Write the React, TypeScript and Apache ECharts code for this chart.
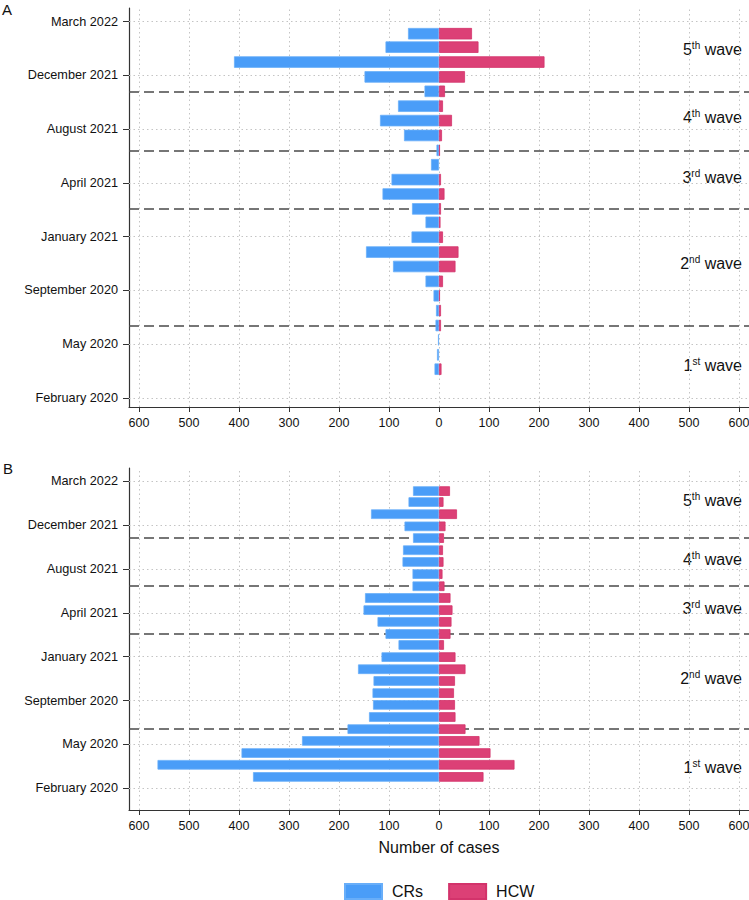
import React, { useEffect, useRef } from 'react';
import * as echarts from 'echarts';

// Monthly bars (first day of month), bottom (Mar 2020) to top (Mar 2022)
const MONTHS = [
  '2020-03', '2020-04', '2020-05', '2020-06', '2020-07', '2020-08', '2020-09', '2020-10', '2020-11', '2020-12',
  '2021-01', '2021-02', '2021-03', '2021-04', '2021-05', '2021-06', '2021-07', '2021-08', '2021-09', '2021-10',
  '2021-11', '2021-12', '2022-01', '2022-02', '2022-03',
];
// Panel A
const CRS_A = [0, 9, 4, 2, 7, 6, 11, 27, 92, 146, 55, 27, 54, 113, 95, 16, 5, 70, 118, 82, 29, 149, 410, 107, 62];
const HCW_A = [0, 5, 0, 0, 4, 4, 2, 8, 33, 39, 8, 3, 4, 11, 4, 0, 2, 6, 26, 8, 12, 52, 211, 79, 66];
// Panel B
const CRS_B = [372, 563, 395, 274, 183, 140, 132, 133, 131, 162, 115, 81, 107, 123, 151, 148, 53, 53, 73, 72, 52, 69, 136, 61, 52];
const HCW_B = [89, 151, 103, 81, 53, 33, 32, 30, 32, 53, 33, 10, 23, 25, 27, 23, 11, 7, 9, 8, 10, 13, 36, 9, 22];

const SERIES_NAMES = ['CRs', 'HCW'];
const TICK_DATES = ['2020-02-01', '2020-05-23', '2020-09-12', '2021-01-02', '2021-04-24', '2021-08-14', '2021-12-04', '2022-03-26'];
const WAVE_STARTS = ['2020-07-01', '2021-03-01', '2021-07-01', '2021-11-01'];
const X_TICKS = [-600, -500, -400, -300, -200, -100, 0, 100, 200, 300, 400, 500, 600];
const WAVE_NUMS = ['5', '4', '3', '2', '1'];
const WAVE_SUPS = ['th', 'th', 'rd', 'nd', 'st'];
const MONTH_NAMES = ['January', 'February', 'March', 'April', 'May', 'June', 'July', 'August', 'September', 'October', 'November', 'December'];

const DAY = 86400000;
const FONT = "'Liberation Sans', Arial, Helvetica, sans-serif";
const BLUE = '#4A9DF8';
const BLUE_BORDER = '#68AEF9';
const PINK = '#DC4076';
const PINK_BORDER = '#D3336B';

const ts = (s: string) => {
  const p = s.split('-').map(Number);
  return Date.UTC(p[0], p[1] - 1, p[2] || 1);
};
const BASE = ts('2020-02-01');

const fmtDate = (v: number) => {
  const d = new Date(Math.round(v));
  return MONTH_NAMES[d.getUTCMonth()] + ' ' + d.getUTCFullYear();
};

function panel(idx: number, crs: number[], hcw: number[], top: number, height: number, minDay: number, maxDay: number, barW: number, withName: boolean) {
  const grid = { left: 129, right: 0, top, height, outerBoundsMode: 'none' };
  const xAxis: any = {
    type: 'value',
    gridIndex: idx,
    min: -620,
    max: 620,
    axisLine: { show: true, lineStyle: { color: '#333', width: 1.2 } },
    axisTick: { show: true, length: 5, customValues: X_TICKS, lineStyle: { color: '#333', width: 1 } },
    axisLabel: {
      customValues: X_TICKS,
      formatter: (v: number) => String(Math.abs(v)),
      fontSize: 12.5,
      fontFamily: FONT,
      color: '#111',
      margin: 9,
    },
    splitLine: { show: false },
  };
  if (withName) {
    xAxis.name = 'Number of cases';
    xAxis.nameLocation = 'middle';
    xAxis.nameGap = 29;
    xAxis.nameTextStyle = { fontSize: 16, fontFamily: FONT, color: '#111' };
  }
  const tickVals = TICK_DATES.map(ts);
  const yMin = BASE + minDay * DAY;
  const yMax = BASE + maxDay * DAY;
  // ECharts widens a time base axis carrying bars by the bar width; pre-shrink so the result matches.
  const shrink = ((yMax - yMin) * (barW / 2)) / height;
  const yTime = {
    type: 'time',
    gridIndex: idx,
    min: yMin + shrink,
    max: yMax - shrink,
    show: false,
    position: 'left',
  };
  // visible value axis (same range) carrying the date ticks/labels
  const yLabels = {
    type: 'value',
    gridIndex: idx,
    min: yMin,
    max: yMax,
    position: 'left',
    offset: 0,
    axisLine: { show: true, lineStyle: { color: '#333', width: 1.2 } },
    axisTick: { show: true, length: 6, customValues: tickVals, lineStyle: { color: '#333', width: 1 } },
    axisLabel: {
      customValues: tickVals,
      formatter: (v: number) => fmtDate(v),
      fontSize: 12.7,
      fontFamily: FONT,
      color: '#111',
      margin: 11,
    },
    splitLine: { show: false },
  };
  const dotted = { color: '#c4c4c4', width: 1, type: [1.5, 3] };
  const dashed = { color: '#4a4a4a', width: 1.6, type: [10, 5] };
  const markData: any[] = [
    ...X_TICKS.map((v) => ({ xAxis: v, lineStyle: dotted })),
    ...tickVals.map((v) => ({ yAxis: v, lineStyle: dotted })),
  ];
  const waveData = WAVE_STARTS.map((d) => ({ yAxis: ts(d), lineStyle: dashed }));
  const crsData = MONTHS.map((m, i) => [crs[i] === 0 ? null : -crs[i], ts(m)]);
  const hcwData = MONTHS.map((m, i) => [hcw[i] === 0 ? null : hcw[i], ts(m)]);
  const yIdx = idx * 2;
  const series = [
    {
      name: SERIES_NAMES[0],
      type: 'bar',
      xAxisIndex: idx,
      yAxisIndex: yIdx,
      barWidth: barW,
      barGap: '-100%',
      data: crsData,
      itemStyle: { color: BLUE, borderColor: BLUE_BORDER, borderWidth: 0.8 },
      markLine: {
        silent: true,
        symbol: ['none', 'none'],
        z: 1,
        animation: false,
        label: { show: false },
        data: markData,
      },
    },
    {
      name: SERIES_NAMES[1],
      type: 'bar',
      xAxisIndex: idx,
      yAxisIndex: yIdx,
      barWidth: barW,
      barGap: '-100%',
      data: hcwData,
      itemStyle: { color: PINK, borderColor: PINK_BORDER, borderWidth: 0.8 },
      markLine: {
        silent: true,
        symbol: ['none', 'none'],
        z: 1,
        animation: false,
        label: { show: false },
        data: waveData,
      },
    },
  ];
  return { grid, xAxis, yAxes: [yTime, yLabels], series };
}

function waveText(i: number, y: number) {
  return {
    type: 'text',
    x: 742,
    y,
    style: {
      text: '{n|' + WAVE_NUMS[i] + '}{s|' + WAVE_SUPS[i] + '}{w| wave}',
      align: 'right',
      verticalAlign: 'middle',
      fill: '#111',
      font: '16px ' + FONT,
      rich: {
        n: { fontSize: 16, fontFamily: FONT, fill: '#111', lineHeight: 18 },
        s: { fontSize: 10, fontFamily: FONT, fill: '#111', verticalAlign: 'top', lineHeight: 12 },
        w: { fontSize: 16, fontFamily: FONT, fill: '#111', lineHeight: 18 },
      },
    },
  };
}

export default function App() {
  const ref = useRef<HTMLDivElement>(null);
  useEffect(() => {
    if (!ref.current) return;
    const chart = echarts.init(ref.current, undefined, { renderer: 'svg' });
    const a = panel(0, CRS_A, HCW_A, 8, 399, -18.8, 812.6, 11.5, false);
    const b = panel(1, CRS_B, HCW_B, 468, 342, -55.5, 818, 9.6, true);
    const waveYA = [49.5, 117.5, 177.5, 263, 365];
    const waveYB = [500, 559, 608.5, 678.5, 767.5];
    chart.setOption({
      animation: false,
      backgroundColor: '#ffffff',
      textStyle: { fontFamily: FONT },
      grid: [a.grid, b.grid],
      xAxis: [a.xAxis, b.xAxis],
      yAxis: [...a.yAxes, ...b.yAxes],
      series: [...a.series, ...b.series],
      legend: {
        data: SERIES_NAMES,
        left: 344,
        top: 883,
        padding: 0,
        itemWidth: 37,
        itemHeight: 15,
        itemGap: 25,
        icon: 'rect',
        selectedMode: false,
        textStyle: { fontSize: 16, fontFamily: FONT, color: '#111', padding: [0, 0, 0, 5] },
      },
      graphic: [
        { type: 'text', x: 2, y: 2, style: { text: 'A', font: '15px ' + FONT, fill: '#111' } },
        { type: 'text', x: 3, y: 461, style: { text: 'B', font: '15px ' + FONT, fill: '#111' } },
        ...waveYA.map((y, i) => waveText(i, y)),
        ...waveYB.map((y, i) => waveText(i, y)),
      ],
    });
    return () => chart.dispose();
  }, []);
  return <div ref={ref} style={{ position: 'fixed', left: 0, top: 0, width: 749, height: 900, background: '#fff' }} />;
}
